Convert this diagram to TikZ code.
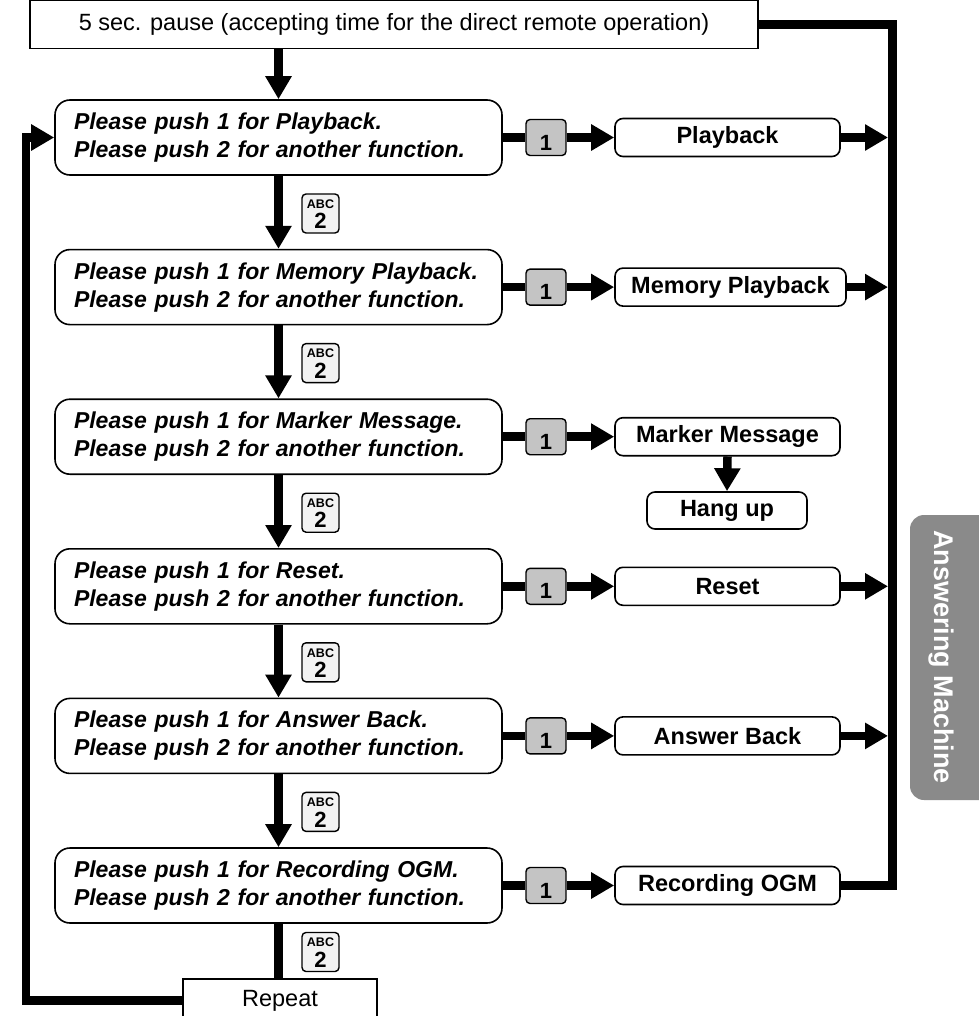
\documentclass[tikz,border=0pt]{standalone}
\usepackage{fontspec}
\setmainfont{Liberation Sans}
\usetikzlibrary{arrows.meta,calc}
\definecolor{keygray}{HTML}{C4C4C4}
\definecolor{tabgray}{HTML}{8A8A8A}
\definecolor{abcgray}{HTML}{F2F2F2}
\newcommand{\twolines}[2]{\mbox{#1}\\\mbox{#2}}
\begin{document}
\begin{tikzpicture}[x=1pt,y=-1pt,
  conn/.style={line width=8.5pt,line join=miter},
  arr/.style={line width=8.5pt,line join=miter,-{Triangle[length=23pt,width=25pt]}},
  prompt/.style={draw,line width=1.6pt,rounded corners=15pt,minimum height=75pt,inner xsep=19pt,inner ysep=0pt,text width=409pt,align=left,font=\fontsize{23}{28}\selectfont\bfseries\itshape},
  result/.style={draw,line width=1.6pt,rounded corners=8pt,minimum width=225pt,minimum height=38pt,inner sep=0pt,fill=white,font=\fontsize{23.5}{28}\selectfont\bfseries},
  keyone/.style={draw,line width=1.4pt,rounded corners=4pt,fill=keygray,minimum width=40pt,minimum height=36pt,inner sep=0pt},
  keyabc/.style={draw,line width=1.4pt,rounded corners=4pt,fill=abcgray,minimum width=37pt,minimum height=39pt,inner sep=0pt},
  onetxt/.style={inner sep=0pt,font=\fontsize{22}{22}\selectfont\bfseries},
  abctxt/.style={inner sep=0pt,font=\fontsize{12.5}{12.5}\selectfont\bfseries},
  twotxt/.style={inner sep=0pt,font=\fontsize{22}{22}\selectfont\bfseries},
  plainbox/.style={draw,line width=1.4pt,inner sep=0pt,font=\fontsize{23.5}{28}\selectfont}
]
\useasboundingbox (0,0) rectangle (978,1016);

% top box
\node[plainbox,minimum width=728pt,minimum height=48pt] (top) at (394,24.5) {5 sec. pause (accepting time for the direct remote operation)};

% prompt boxes
\node[prompt] (p1) at (278.5,137.5) {\twolines{Please push 1 for Playback.}{Please push 2 for another function.}};
\node[prompt] (p2) at (278.5,287.1) {\twolines{Please push 1 for Memory Playback.}{Please push 2 for another function.}};
\node[prompt] (p3) at (278.5,436.7) {\twolines{Please push 1 for Marker Message.}{Please push 2 for another function.}};
\node[prompt] (p4) at (278.5,586.3) {\twolines{Please push 1 for Reset.}{Please push 2 for another function.}};
\node[prompt] (p5) at (278.5,735.9) {\twolines{Please push 1 for Answer Back.}{Please push 2 for another function.}};
\node[prompt] (p6) at (278.5,885.5) {\twolines{Please push 1 for Recording OGM.}{Please push 2 for another function.}};

% repeat box
\node[plainbox,minimum width=194pt,minimum height=43pt] (rep) at (280,1000.5) {Repeat};

% key 1
\foreach \i/\y in {1/137.5,2/287.1,3/436.7,4/586.3,5/735.9,6/885.5}{
  \node[keyone] (k\i) at (546,\y) {};
  \node[onetxt] (kt\i) at (546,\y+5) {1};
}

% ABC 2 keys
\foreach \i/\y in {1/213.5,2/363.1,3/512.7,4/662.3,5/811.9,6/952}{
  \node[keyabc] (a\i) at (320.5,\y) {};
  \node[abctxt] (at\i) at (320.5,\y-9.5) {ABC};
  \node[twotxt] (bt\i) at (320.5,\y+7.5) {2};
}

% result boxes
\node[result] (r1) at (727.5,137.5) {Playback};
\node[result,minimum width=231pt] (r2) at (730.5,287.1) {Memory Playback};
\node[result] (r3) at (727.5,436.7) {Marker Message};
\node[result,minimum width=160pt,minimum height=37pt] (hang) at (727,510.5) {Hang up};
\node[result] (r4) at (727.5,586.3) {Reset};
\node[result] (r5) at (727.5,735.9) {Answer Back};
\node[result] (r6) at (727.5,885.5) {Recording OGM};

% coordinates
\coordinate (rl) at (888,0);
\coordinate (rc) at (892.5,885.5);
\coordinate (lc) at (26,137.5);

% vertical flow
\draw[arr] (top.south -| p1.north) -- (p1.north);
\draw[arr] (p1.south) -- (p2.north);
\draw[arr] (p2.south) -- (p3.north);
\draw[arr] (p3.south) -- (p4.north);
\draw[arr] (p4.south) -- (p5.north);
\draw[arr] (p5.south) -- (p6.north);
\draw[conn] (p6.south) -- (p6.south |- rep.north);

% loop back
\draw[arr] (rep.west) -| (lc) -- (p1.west);

% horizontal connectors
\foreach \i in {1,...,6}{
  \draw[conn] (p\i.east) -- (k\i.west);
  \draw[arr] (k\i.east) -- (r\i.west);
}
\draw[arr] (r1.east) -- (r1.east -| rl);
\draw[arr] (r2.east) -- (r2.east -| rl);
\draw[arr] (r4.east) -- (r4.east -| rl);
\draw[arr] (r5.east) -- (r5.east -| rl);
\draw[arr] (r3.south) -- (hang.north);

% right return line
\draw[conn] (top.east) -| (rc) -- (r6.east);

% side tab
\fill[tabgray,rounded corners=14pt] (910,515) rectangle (1000,800);
\node[rotate=-90,text=white,inner sep=0pt,font=\fontsize{27}{27}\selectfont\bfseries] (tab) at (941,657) {Answering Machine};
\end{tikzpicture}
\end{document}
